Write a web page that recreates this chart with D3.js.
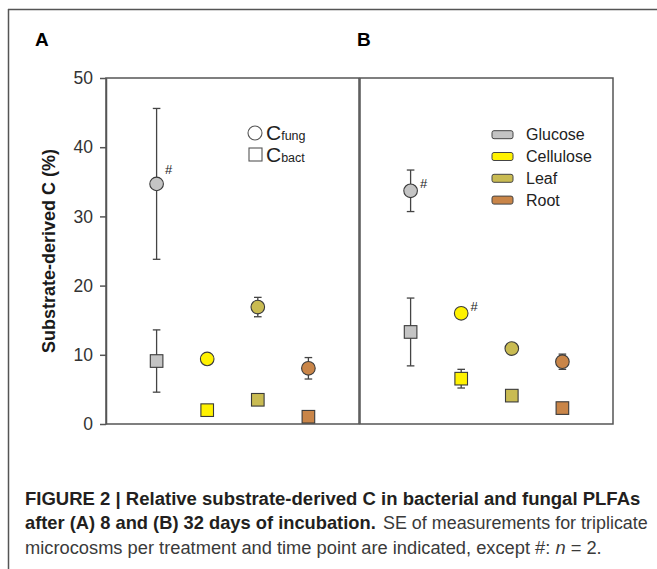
<!DOCTYPE html>
<html>
<head>
<meta charset="utf-8">
<script src="https://cdn.jsdelivr.net/npm/d3@7"></script>
<style>
  html, body { margin: 0; padding: 0; background: #fff; }
  svg { display: block; }
</style>
</head>
<body>
<svg id="chart" width="657" height="569"></svg>
<script>
// ---------------- DATA ----------------
const substrates = ["Glucose", "Cellulose", "Leaf", "Root"];
const yTicks = [0, 10, 20, 30, 40, 50];

// Panel A (8 days)
const fungA    = [34.7, 9.4, 16.9, 8.05];
const fungA_se = [10.9, 0, 1.4, 1.55];
const bactA    = [9.1, 2.0, 3.5, 1.05];
const bactA_se = [4.5, 0, 0, 0];

// Panel B (32 days)
const fungB    = [33.7, 16.0, 10.9, 9.0];
const fungB_se = [3.0, 0, 0, 1.1];
const bactB    = [13.3, 6.55, 4.1, 2.3];
const bactB_se = [4.9, 1.35, 0, 0];

// "#" (n = 2) flags
const hashA_fung = [true, false, false, false];
const hashB_fung = [true, true, false, false];

const panelLabels = ["A", "B"];
const yAxisTitle = "Substrate-derived C (%)";
const legendFung = ["C", "fung"];
const legendBact = ["C", "bact"];
const captionBold1 = "FIGURE 2 | Relative substrate-derived C in bacterial and fungal PLFAs";
const captionBold2 = "after (A) 8 and (B) 32 days of incubation.";
const captionReg2 = "SE of measurements for triplicate";
const captionReg3 = "microcosms per treatment and time point are indicated, except #: ";
const captionItal3 = "n";
const captionEnd3 = " = 2.";

// ---------------- STYLE ----------------
const colors = ["#c4c4c4", "#fff200", "#c9bb52", "#c98548"];
const FONT = "'Liberation Sans', Arial, Helvetica, sans-serif";
const frameColor = "#555";
const markStroke = "#3a3a3a";

const svg = d3.select("#chart");

// Outer figure frame (left + top lines)
svg.append("line").attr("x1", 8.5).attr("x2", 8.5).attr("y1", 9).attr("y2", 569)
  .attr("stroke", frameColor).attr("stroke-width", 1.5);
svg.append("line").attr("x1", 8).attr("x2", 657).attr("y1", 9.5).attr("y2", 9.5)
  .attr("stroke", frameColor).attr("stroke-width", 1.5);

// Scales
const plotTop = 78, plotBottom = 424;
const y = d3.scaleLinear().domain([0, 50]).range([plotBottom, plotTop]);
const xA = d3.scaleLinear().domain([0, 5]).range([106, 359]);
const xB = d3.scaleLinear().domain([0, 5]).range([360, 613]);

// Panel boxes
function box(x) {
  const [x0, x1] = x.range();
  svg.append("rect").attr("x", x0).attr("y", plotTop).attr("width", x1 - x0).attr("height", plotBottom - plotTop)
    .attr("fill", "#fff").attr("stroke", frameColor).attr("stroke-width", 1.5);
}
box(xA); box(xB);

// Y axis on panel A
const yAxis = d3.axisLeft(y).tickValues(yTicks).tickSize(6).tickSizeOuter(0).tickPadding(7);
const gy = svg.append("g").attr("transform", `translate(${xA.range()[0]},0)`).call(yAxis);
gy.select(".domain").attr("stroke", frameColor).attr("stroke-width", 1.5);
gy.selectAll(".tick line").attr("stroke", frameColor).attr("stroke-width", 1.5);
gy.selectAll(".tick text").attr("font-family", FONT).attr("font-size", 17.5).attr("fill", "#333");

// Y axis title
svg.append("text")
  .attr("transform", "translate(49,251) rotate(-90)")
  .attr("text-anchor", "middle").attr("dominant-baseline", "central")
  .attr("font-family", FONT).attr("font-size", 18).attr("font-weight", "bold").attr("fill", "#1a1a1a")
  .text(yAxisTitle);

// Panel letters
svg.append("text").attr("x", 35).attr("y", 46).attr("font-family", FONT).attr("font-size", 19)
  .attr("font-weight", "bold").attr("fill", "#000").text(panelLabels[0]);
svg.append("text").attr("x", 357).attr("y", 46).attr("font-family", FONT).attr("font-size", 19)
  .attr("font-weight", "bold").attr("fill", "#000").text(panelLabels[1]);

// Draw a panel's data
function drawPanel(x, fung, fungSe, bact, bactSe, hashes, hashDx, hashDy) {
  const g = svg.append("g");
  const cats = substrates.map((s, i) => i + 1);
  const series = [
    { v: fung, se: fungSe, shape: "circle" },
    { v: bact, se: bactSe, shape: "square" }
  ];
  series.forEach(s => {
    s.v.forEach((v, i) => {
      if (!s.se[i]) return;
      const cx = x(cats[i]);
      const lo = y(v - s.se[i]), hi = y(v + s.se[i]);
      g.append("line").attr("x1", cx).attr("x2", cx).attr("y1", lo).attr("y2", hi)
        .attr("stroke", "#444").attr("stroke-width", 1.3);
      [lo, hi].forEach(yy => g.append("line").attr("x1", cx - 3.8).attr("x2", cx + 3.8)
        .attr("y1", yy).attr("y2", yy).attr("stroke", "#444").attr("stroke-width", 1.3));
    });
  });
  series.forEach(s => {
    s.v.forEach((v, i) => {
      const cx = x(cats[i]), cy = y(v);
      if (s.shape === "circle") {
        g.append("circle").attr("cx", cx).attr("cy", cy).attr("r", 6.8)
          .attr("fill", colors[i]).attr("stroke", markStroke).attr("stroke-width", 1.1);
      } else {
        g.append("rect").attr("x", cx - 6.3).attr("y", cy - 6.3).attr("width", 12.6).attr("height", 12.6)
          .attr("fill", colors[i]).attr("stroke", markStroke).attr("stroke-width", 1.1);
      }
    });
  });
  hashes.forEach((h, i) => {
    if (!h) return;
    g.append("text").attr("x", x(cats[i]) + hashDx).attr("y", y(fung[i]) + hashDy)
      .attr("text-anchor", "middle").attr("dominant-baseline", "central")
      .attr("font-family", FONT).attr("font-size", 13).attr("fill", "#222").text("#");
  });
}
drawPanel(xA, fungA, fungA_se, bactA, bactA_se, hashA_fung, 12, -14);
drawPanel(xB, fungB, fungB_se, bactB, bactB_se, hashB_fung, 13, -7);

// Legend A (symbols)
const legA = svg.append("g");
legA.append("circle").attr("cx", 255).attr("cy", 133).attr("r", 7)
  .attr("fill", "#fff").attr("stroke", "#555").attr("stroke-width", 1.1);
legA.append("rect").attr("x", 249).attr("y", 148).attr("width", 13).attr("height", 13)
  .attr("fill", "#fff").attr("stroke", "#555").attr("stroke-width", 1.1);
[[legendFung, 140], [legendBact, 162]].forEach(([t, by]) => {
  const tx = legA.append("text").attr("x", 266).attr("y", by).attr("font-family", FONT).attr("fill", "#222");
  tx.append("tspan").attr("font-size", 21).text(t[0]);
  tx.append("tspan").attr("font-size", 12.5).text(t[1]);
});

// Legend B (substrates)
const legB = svg.append("g");
substrates.forEach((s, i) => {
  const cy = 134.7 + i * 21.8;
  legB.append("rect").attr("x", 492).attr("y", cy - 4).attr("width", 21).attr("height", 8).attr("rx", 2)
    .attr("fill", colors[i]).attr("stroke", "#444").attr("stroke-width", 1);
  legB.append("text").attr("x", 526).attr("y", cy).attr("dominant-baseline", "central")
    .attr("font-family", FONT).attr("font-size", 16).attr("fill", "#222").text(s);
});

// Caption: font size fitted so each run spans the width seen in the reference
function fitText(sel, target) {
  const base = 18;
  sel.attr("font-size", base);
  const w = sel.node().getComputedTextLength();
  sel.attr("font-size", base * target / w);
  return sel;
}
const capX = 25;
const c1 = svg.append("text").attr("x", capX).attr("y", 504.5).attr("font-family", FONT)
  .attr("font-weight", "bold").attr("fill", "#231f20").text(captionBold1);
fitText(c1, 641 - capX);

const c2b = svg.append("text").attr("x", capX).attr("y", 529).attr("font-family", FONT)
  .attr("font-weight", "bold").attr("fill", "#231f20").text(captionBold2);
fitText(c2b, 376 - capX);
const c2r = svg.append("text").attr("x", 383).attr("y", 529).attr("font-family", FONT)
  .attr("fill", "#3a3a3a").text(captionReg2);
fitText(c2r, 648 - 383);

const c3 = svg.append("text").attr("x", capX).attr("y", 553.5).attr("font-family", FONT)
  .attr("fill", "#3a3a3a");
c3.append("tspan").text(captionReg3);
c3.append("tspan").attr("font-style", "italic").text(captionItal3);
c3.append("tspan").text(captionEnd3);
fitText(c3, 602 - capX);
</script>
</body>
</html>
